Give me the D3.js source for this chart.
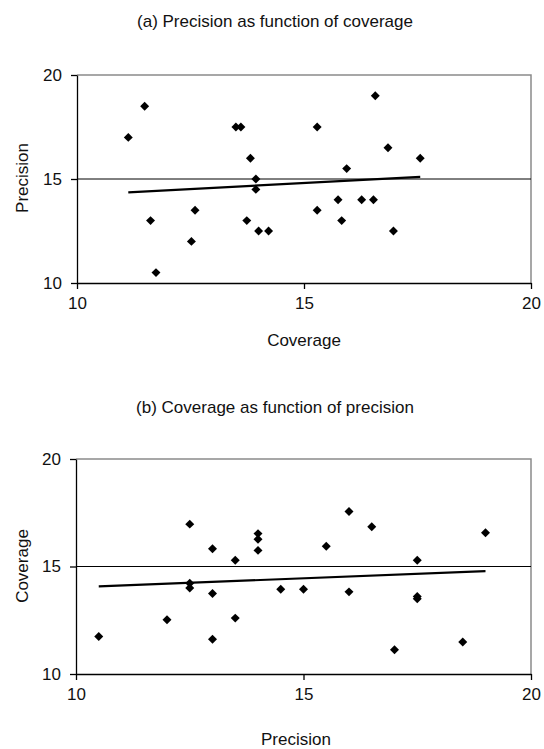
<!DOCTYPE html>
<meta charset="utf-8">
<script src="https://d3js.org/d3.v7.min.js"></script>
<style>
  body { margin: 0; background: #fff; }
  text { font-family: "Liberation Sans", Arial, sans-serif; fill: #111; }
</style>
<div id="chart"></div>
<script>
  // one set of observations, shown both ways round
  const coverage = [11.13, 11.49, 11.62, 11.74, 12.52, 12.60, 13.50, 13.61, 13.82, 13.94, 13.94, 13.74, 14.00,
    14.22, 15.29, 15.29, 15.75, 15.83, 15.94, 16.27, 16.53, 16.57, 16.85, 16.97, 17.56]
  const precision = [17, 18.5, 13, 10.5, 12, 13.5, 17.5, 17.5, 16, 15, 14.5, 13, 12.5,
    12.5, 17.5, 13.5, 14, 13, 15.5, 14, 14, 19, 16.5, 12.5, 16]
  const tickValues = [10, 15, 20]

  const panels = [
    { title: "(a) Precision as function of coverage", xs: coverage, ys: precision, xLabel: "Coverage", yLabel: "Precision",
      left: 77, right: 531, top: 75, bottom: 283, titleY: 27, xLabelX: 304, xLabelY: 346, yLabelY: 178 },
    { title: "(b) Coverage as function of precision", xs: precision, ys: coverage, xLabel: "Precision", yLabel: "Coverage",
      left: 76, right: 531, top: 459, bottom: 674, titleY: 413, xLabelX: 296, xLabelY: 745, yLabelY: 566 }
  ]

  const svg = d3.select("#chart").append("svg")
    .attr("width", 544)
    .attr("height", 749)

  // least squares line y = a + b x
  function fit(xs, ys) {
    const mx = d3.mean(xs), my = d3.mean(ys)
    let sxy = 0, sxx = 0
    xs.forEach((x, i) => { sxy += (x - mx) * (ys[i] - my); sxx += (x - mx) * (x - mx) })
    const b = sxy / sxx
    return { a: my - b * mx, b: b }
  }

  panels.forEach(function (p) {
    const x = d3.scaleLinear().domain([10, 20]).range([p.left, p.right])
    const y = d3.scaleLinear().domain([10, 20]).range([p.bottom, p.top])
    const g = svg.append("g")

    g.append("text")
      .attr("x", 275).attr("y", p.titleY)
      .attr("text-anchor", "middle")
      .style("font-size", "17px")
      .text(p.title)

    // grey frame on top and right
    g.append("path")
      .attr("d", `M${p.left},${y(20)}H${p.right}V${p.bottom}`)
      .attr("fill", "none").attr("stroke", "#8a8a8a").attr("stroke-width", 1.5)

    // gridline at 15
    g.append("line")
      .attr("x1", p.left).attr("x2", p.right)
      .attr("y1", y(15)).attr("y2", y(15))
      .attr("stroke", "#000").attr("stroke-width", 1)

    const yAxis = g.append("g")
      .attr("transform", `translate(${p.left},0)`)
      .call(d3.axisLeft(y).tickValues(tickValues).tickSize(6).tickSizeOuter(0).tickPadding(9))
    const xAxis = g.append("g")
      .attr("transform", `translate(0,${p.bottom})`)
      .call(d3.axisBottom(x).tickValues(tickValues).tickSize(6).tickSizeOuter(0).tickPadding(8))
    ;[yAxis, xAxis].forEach(function (ax) {
      ax.select(".domain").attr("stroke", "#000").attr("stroke-width", 1.3)
      ax.selectAll(".tick line").attr("stroke", "#000").attr("stroke-width", 1.3)
      ax.selectAll("text").style("font-size", "17px").style("font-family", '"Liberation Sans", Arial, sans-serif').attr("fill", "#111")
    })

    g.append("text")
      .attr("x", p.xLabelX).attr("y", p.xLabelY)
      .attr("text-anchor", "middle")
      .style("font-size", "17px")
      .text(p.xLabel)

    g.append("text")
      .attr("transform", `translate(28,${p.yLabelY}) rotate(-90)`)
      .attr("text-anchor", "middle")
      .style("font-size", "17px")
      .text(p.yLabel)

    // trend line across the observed x range
    const f = fit(p.xs, p.ys)
    const ext = d3.extent(p.xs)
    g.append("path")
      .attr("d", d3.line()(ext.map(v => [x(v), y(f.a + f.b * v)])))
      .attr("stroke", "#000").attr("stroke-width", 2.2).attr("fill", "none")

    g.selectAll(".pt")
      .data(p.xs.map((v, i) => [v, p.ys[i]]))
      .join("path")
      .attr("class", "pt")
      .attr("d", d3.symbol(d3.symbolSquare, 40))
      .attr("transform", d => `translate(${x(d[0])},${y(d[1])}) rotate(45)`)
      .attr("fill", "#000")
  })
</script>
